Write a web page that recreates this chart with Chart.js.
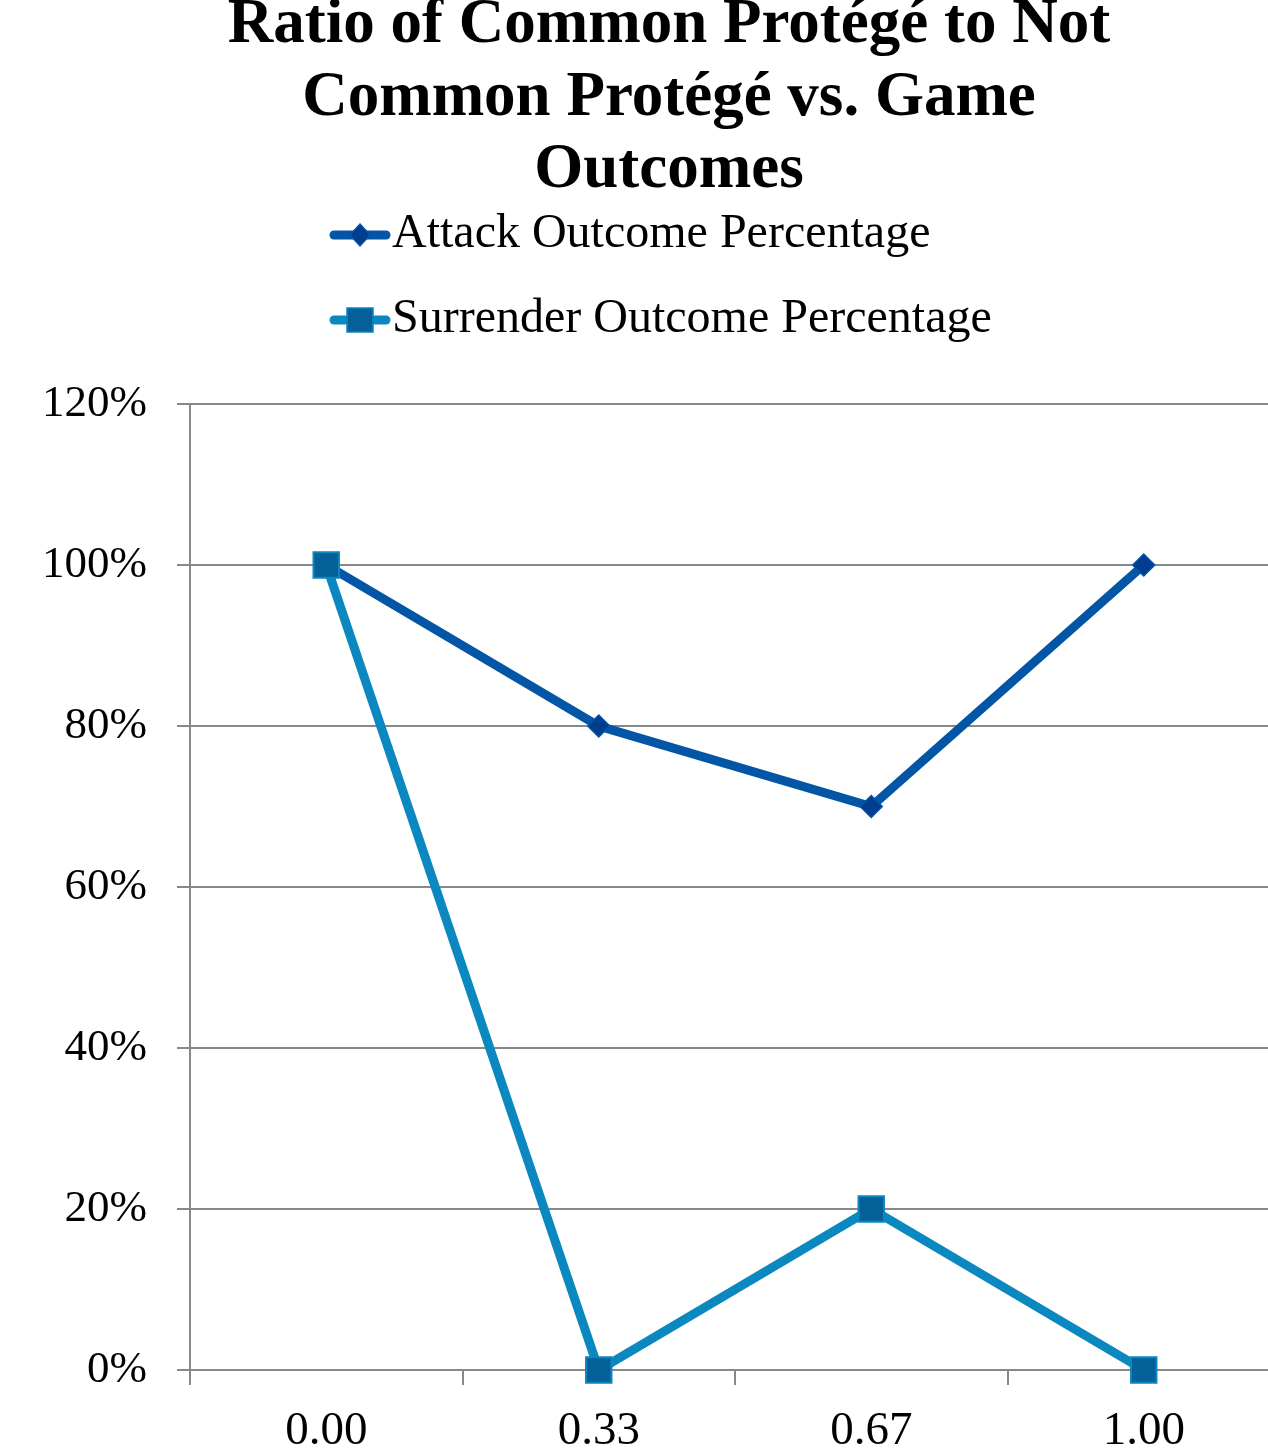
<!DOCTYPE html>
<html>
<head>
<meta charset="utf-8">
<script src="https://cdn.jsdelivr.net/npm/chart.js@4.4.1/dist/chart.umd.min.js"></script>
<style>
  html, body { margin: 0; padding: 0; background: #fff; overflow: hidden; }
  canvas { display: block; }
</style>
</head>
<body>
<canvas id="c" width="1280" height="1455" style="width:1280px;height:1455px"></canvas>
<script>
const titleLines = ["Ratio of Common Protégé to Not", "Common Protégé vs. Game", "Outcomes"];
const categories = ["0.00", "0.33", "0.67", "1.00"];
const attackValues = [100, 80, 70, 100];
const surrenderValues = [100, 0, 20, 0];
const seriesNames = ["Attack Outcome Percentage", "Surrender Outcome Percentage"];
const yTicks = [0, 20, 40, 60, 80, 100, 120];

const attackColor = '#0355a5';
const attackMarker = '#003d8c';
const surrColor = '#0a88bf';
const surrMarker = '#05609a';

const headerPlugin = {
  id: 'header',
  afterDraw(chart) {
    const ctx = chart.ctx;
    ctx.save();
    ctx.fillStyle = '#000';
    ctx.textAlign = 'center';
    ctx.textBaseline = 'alphabetic';
    ctx.font = 'bold 63px "Liberation Serif", serif';
    const baselines = [42, 115, 187];
    titleLines.forEach((t, i) => ctx.fillText(t, 669, baselines[i]));
    const items = chart.data.datasets;
    const ys = [235, 320];
    items.forEach((ds, i) => {
      const y = ys[i];
      ctx.strokeStyle = ds.borderColor;
      ctx.lineWidth = 9;
      ctx.lineCap = 'round';
      ctx.beginPath();
      ctx.moveTo(334, y);
      ctx.lineTo(386, y);
      ctx.stroke();
      ctx.fillStyle = ds.pointBackgroundColor;
      ctx.strokeStyle = ds.pointBorderColor;
      ctx.lineWidth = 1.5;
      ctx.beginPath();
      if (i === 0) {
        ctx.moveTo(360, y - 11); ctx.lineTo(370, y); ctx.lineTo(360, y + 11); ctx.lineTo(350, y); ctx.closePath();
      } else {
        ctx.rect(347, y - 12, 26, 24);
      }
      ctx.fill();
      ctx.stroke();
      ctx.fillStyle = '#000';
      ctx.textAlign = 'left';
      ctx.font = '48px "Liberation Serif", serif';
      ctx.fillText(ds.label, 392, y + 12);
    });
    ctx.restore();
  }
};

new Chart(document.getElementById('c'), {
  type: 'line',
  data: {
    labels: categories,
    datasets: [
      {
        label: seriesNames[0],
        data: attackValues,
        borderColor: attackColor,
        borderWidth: 9,
        pointStyle: 'rectRot',
        pointRadius: 11,
        pointBackgroundColor: attackMarker,
        pointBorderColor: attackColor,
        pointBorderWidth: 1.5,
        tension: 0,
        clip: false,
        order: 1
      },
      {
        label: seriesNames[1],
        data: surrenderValues,
        borderColor: surrColor,
        borderWidth: 9,
        pointStyle: 'rect',
        pointRadius: 18,
        pointBackgroundColor: surrMarker,
        pointBorderColor: surrColor,
        pointBorderWidth: 2,
        tension: 0,
        clip: false,
        order: 0
      }
    ]
  },
  options: {
    responsive: false,
    animation: false,
    layout: { autoPadding: false, padding: { top: 404, right: 0, bottom: 0, left: 0 } },
    plugins: {
      legend: { display: false },
      title: { display: false },
      tooltip: { enabled: false }
    },
    scales: {
      x: {
        offset: true,
        grid: { display: true, offset: true, drawOnChartArea: false, color: '#888', lineWidth: 2, tickLength: 15 },
        border: { display: false },
        ticks: { color: '#000', font: { family: '"Liberation Serif", serif', size: 47 }, padding: 18, maxRotation: 0 },
        afterFit(scale) { scale.height = 85; scale.paddingRight = 0; scale.paddingLeft = 0; }
      },
      y: {
        min: 0,
        max: 120,
        afterBuildTicks(scale) { scale.ticks = yTicks.map(v => ({ value: v })); },
        grid: { color: '#888', lineWidth: 2, tickLength: 13 },
        border: { display: true, color: '#888', width: 2 },
        ticks: {
          color: '#000',
          font: { family: '"Liberation Serif", serif', size: 45 },
          padding: 30,
          callback: v => v + '%'
        },
        afterFit(scale) { scale.width = 190; }
      }
    }
  },
  plugins: [headerPlugin]
});
</script>
</body>
</html>
